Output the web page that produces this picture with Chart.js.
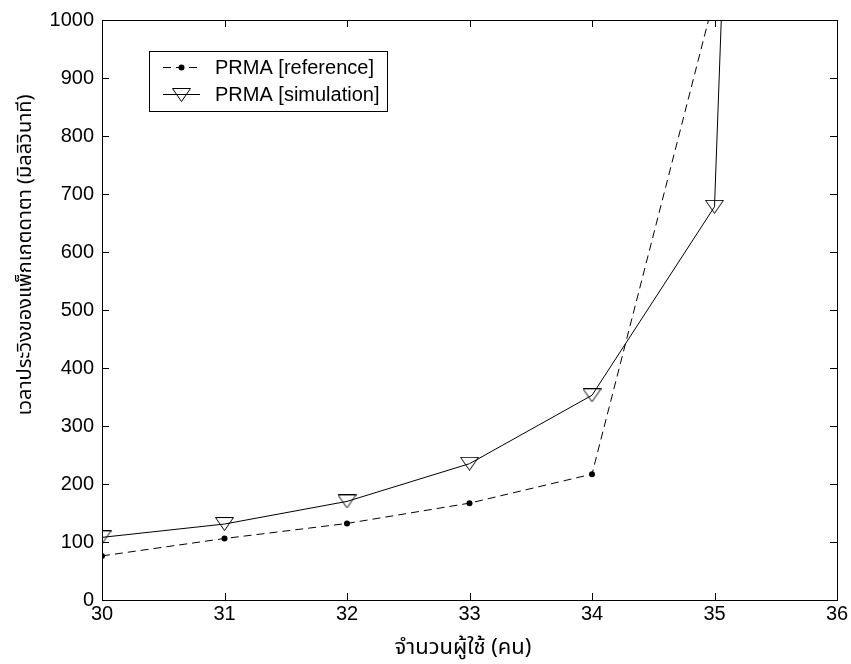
<!DOCTYPE html>
<html>
<head>
<meta charset="utf-8">
<script src="https://cdn.jsdelivr.net/npm/chart.js@4.4.1/dist/chart.umd.min.js"></script>
<style>
  html, body { margin: 0; padding: 0; background: #fff; }
  #wrap { width: 851px; height: 664px; }
</style>
</head>
<body>
<div id="wrap"><canvas id="delayChart" width="851" height="664"></canvas></div>
<script>
// number of users on the x axis
var users = [30, 31, 32, 33, 34, 35, 36];
// packet delay in ms
var refDelay = [76, 106, 132, 167, 217, 1040];
var simDelay = [108, 131, 170, 235, 353, 678, 6500];
var xTicks = [30, 31, 32, 33, 34, 35, 36];
var yTicks = [0, 100, 200, 300, 400, 500, 600, 700, 800, 900, 1000];
var seriesNames = ['PRMA [reference]', 'PRMA [simulation]'];
var xTitle = 'จำนวนผู้ใช้ (คน)';
var yTitle = 'เวลาประวิงของแพ็กเกตดาตา (มิลลิวินาที)';

var FONT = '"Liberation Sans", Arial, sans-serif';
var THAI_FONT = '"Noto Sans Thai", "Noto Sans", "DejaVu Sans", sans-serif';

function toPoints(xs, ys) {
    return ys.map(function (y, i) { return { x: xs[i], y: y }; });
}

// open downward triangle, like the matlab 'v' marker
function makeTriangle() {
    var c = document.createElement('canvas');
    c.width = 19; c.height = 14;
    var g = c.getContext('2d');
    g.strokeStyle = '#000';
    g.lineWidth = 1;
    g.beginPath();
    g.moveTo(0.5, 0.5);
    g.lineTo(18.5, 0.5);
    g.lineTo(9.5, 13.5);
    g.closePath();
    g.stroke();
    return c;
}
var triMarker = makeTriangle();

// box, inward ticks, titles and legend
var matlabAxes = {
    id: 'matlabAxes',
    afterDraw: function (chart) {
        var ctx = chart.ctx, a = chart.chartArea;
        var xs = chart.scales.x, ys = chart.scales.y;
        var tl = 7;
        ctx.save();
        ctx.strokeStyle = '#000';
        ctx.lineWidth = 1;
        ctx.strokeRect(Math.round(a.left) + 0.5, Math.round(a.top) + 0.5,
            Math.round(a.right - a.left), Math.round(a.bottom - a.top));
        ctx.beginPath();
        xTicks.forEach(function (v) {
            var px = Math.round(xs.getPixelForValue(v)) + 0.5;
            ctx.moveTo(px, a.bottom); ctx.lineTo(px, a.bottom - tl);
            ctx.moveTo(px, a.top); ctx.lineTo(px, a.top + tl);
        });
        yTicks.forEach(function (v) {
            var py = Math.round(ys.getPixelForValue(v)) + 0.5;
            ctx.moveTo(a.left, py); ctx.lineTo(a.left + tl, py);
            ctx.moveTo(a.right, py); ctx.lineTo(a.right - tl, py);
        });
        ctx.stroke();

        // axis titles
        ctx.fillStyle = '#000';
        ctx.textAlign = 'center';
        ctx.textBaseline = 'middle';
        ctx.font = '22px ' + THAI_FONT;
        ctx.fillText(xTitle, 463, 650);
        ctx.font = '20px ' + THAI_FONT;
        ctx.save();
        ctx.translate(27, 255);
        ctx.rotate(-Math.PI / 2);
        ctx.fillText(yTitle, 0, 0);
        ctx.restore();

        // legend
        var ds = chart.data.datasets;
        ctx.font = '20px ' + FONT;
        var textX = 215;
        var w = 0;
        ds.forEach(function (d) { w = Math.max(w, ctx.measureText(d.label).width); });
        var bx = 149.5, by = 51.5, bw = Math.round(textX + w + 8 - bx), bh = 60;
        ctx.fillStyle = '#fff';
        ctx.fillRect(bx, by, bw, bh);
        ctx.strokeRect(bx, by, bw, bh);
        var rows = [67, 94];
        ds.forEach(function (d, i) {
            var y = rows[i];
            ctx.beginPath();
            ctx.setLineDash(d.borderDash || []);
            ctx.moveTo(163, y + 0.5);
            ctx.lineTo(200, y + 0.5);
            ctx.stroke();
            ctx.setLineDash([]);
            if (d.pointStyle === 'circle') {
                ctx.fillStyle = '#000';
                ctx.beginPath();
                ctx.arc(181.5, y + 0.5, d.pointRadius, 0, Math.PI * 2);
                ctx.fill();
            } else {
                ctx.drawImage(d.pointStyle, 172, y - 6);
            }
            ctx.fillStyle = '#000';
            ctx.textAlign = 'left';
            ctx.fillText(d.label, textX, y + 1);
        });
        ctx.restore();
    }
};

var ctxDelay = document.getElementById('delayChart').getContext('2d');
var delayChart = new Chart(ctxDelay, {
    type: 'line',
    data: {
        datasets: [{
            label: seriesNames[0],
            data: toPoints(users, refDelay),
            borderColor: '#000',
            backgroundColor: '#000',
            borderWidth: 1,
            borderDash: [8, 5],
            pointStyle: 'circle',
            pointRadius: 3,
            pointBorderWidth: 0,
            fill: false,
            tension: 0
        }, {
            label: seriesNames[1],
            data: toPoints(users, simDelay),
            borderColor: '#000',
            borderWidth: 1,
            pointStyle: triMarker,
            pointRadius: 9,
            fill: false,
            tension: 0
        }]
    },
    options: {
        responsive: false,
        animation: false,
        events: [],
        layout: { padding: { top: 20, right: 14, left: 0, bottom: 0 } },
        plugins: { legend: { display: false }, tooltip: { enabled: false } },
        scales: {
            x: {
                type: 'linear',
                min: 30,
                max: 36,
                afterFit: function (s) { s.height = 64; },
                afterBuildTicks: function (s) { s.ticks = xTicks.map(function (v) { return { value: v }; }); },
                grid: { display: false, drawTicks: false },
                border: { display: false },
                ticks: {
                    color: '#000', padding: 2, maxRotation: 0,
                    font: { family: FONT, size: 20 },
                    callback: function (v) { return String(v); }
                }
            },
            y: {
                min: 0,
                max: 1000,
                afterFit: function (s) { s.width = 102; },
                afterBuildTicks: function (s) { s.ticks = yTicks.map(function (v) { return { value: v }; }); },
                grid: { display: false, drawTicks: false },
                border: { display: false },
                ticks: {
                    color: '#000', padding: 8,
                    font: { family: FONT, size: 20 },
                    callback: function (v) { return String(v); }
                }
            }
        }
    },
    plugins: [matlabAxes]
});
</script>
</body>
</html>
